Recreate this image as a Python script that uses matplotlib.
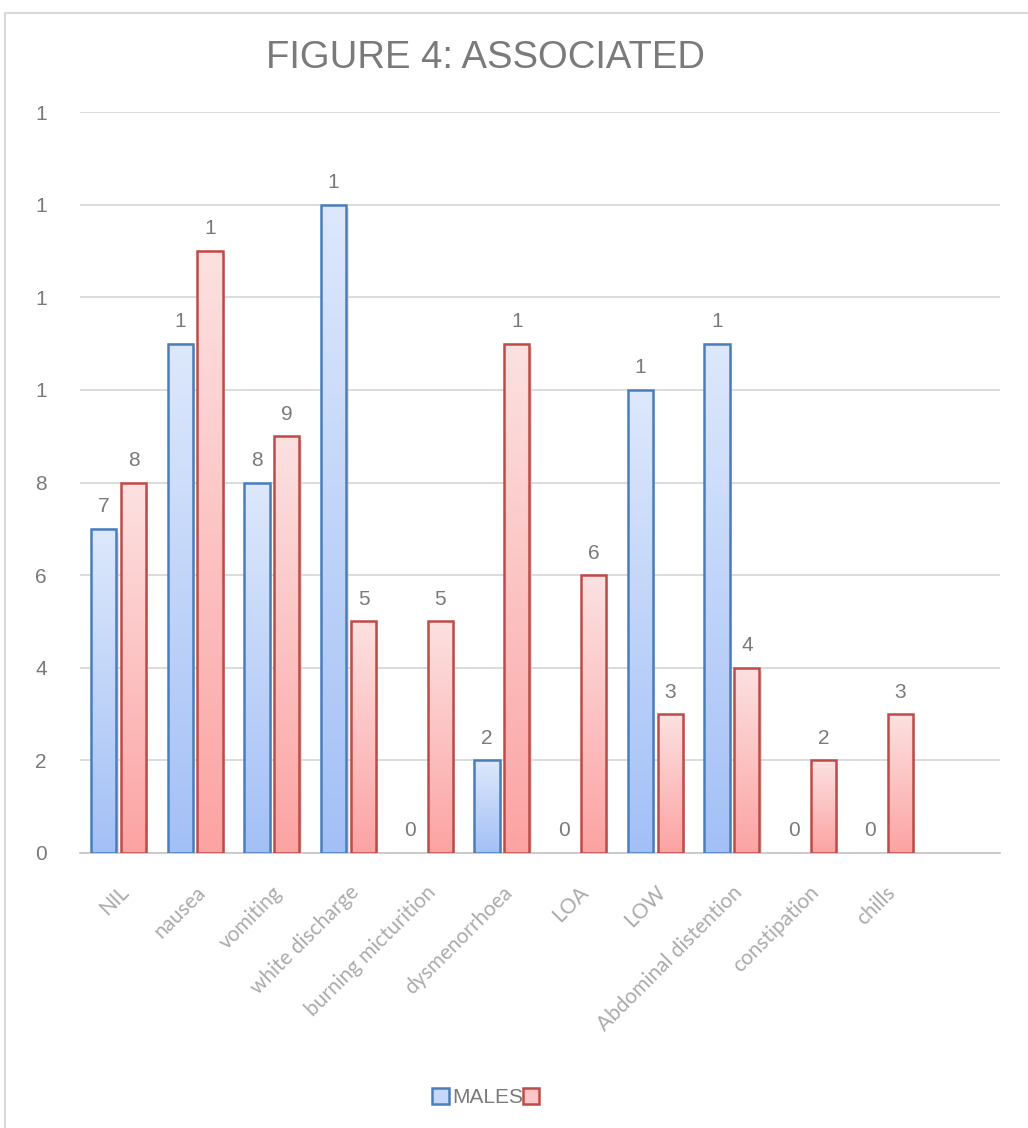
import matplotlib
matplotlib.use("Agg")
import matplotlib.pyplot as plt
import numpy as np
from matplotlib.colors import LinearSegmentedColormap
from matplotlib.patches import Rectangle, Patch

# symptom categories and counts per group
categories = ["NIL", "nausea", "vomiting", "white discharge", "burning micturition",
              "dysmenorrhoea", "LOA", "LOW", "Abdominal distention", "constipation", "chills"]
males = [7, 11, 8, 14, 0, 2, 0, 10, 11, 0, 0]
females = [8, 13, 9, 5, 5, 11, 6, 3, 4, 2, 3]
y_ticks = [0, 2, 4, 6, 8, 10, 12, 14, 16]

plt.rcParams['font.family'] = ['Liberation Sans', 'DejaVu Sans']

TEXT_GREY = "#7a7a7a"
BLUE_EDGE = "#4a7ebb"
RED_EDGE = "#be4b48"
blue_map = LinearSegmentedColormap.from_list("blue", ["#a3c0f6", "#dde8fc"])
red_map = LinearSegmentedColormap.from_list("red", ["#fca3a3", "#fde1e1"])


def short_label(v):
    # the value text is cut down to its first character
    return str(int(v))[0]


def gradient_bars(ax, xs, values, width, cmap, edge):
    edges = [edge if v > 0 else "none" for v in values]
    bars = ax.bar(xs, values, width, facecolor="none", edgecolor=edges, linewidth=1.8, zorder=3)
    grad = np.linspace(0, 1, 256).reshape(-1, 1)
    for b in bars:
        h = b.get_height()
        if h <= 0:
            continue
        x0 = b.get_x()
        ax.imshow(grad, cmap=cmap, origin="lower", aspect="auto",
                  extent=(x0, x0 + b.get_width(), 0, h), zorder=2)
        # soft shadow to the lower right
        ax.add_patch(Rectangle((x0 + 0.03, -0.08), b.get_width(), h, facecolor="#cfcfcf",
                               edgecolor="none", alpha=0.6, zorder=1.5))
    for b, v in zip(bars, values):
        ax.annotate(short_label(v), (b.get_x() + b.get_width() / 2, v),
                    xytext=(0, 9), textcoords="offset points", ha="center", va="bottom",
                    fontsize=15, color=TEXT_GREY, zorder=4)
    return bars


fig = plt.figure(figsize=(10.28, 11.28), dpi=100)
ax = fig.add_axes([0.078, 0.2438, 0.895, 0.6569])

x = np.arange(len(categories))
w = 0.33
gradient_bars(ax, x - 0.195, males, w, blue_map, BLUE_EDGE)
gradient_bars(ax, x + 0.195, females, w, red_map, RED_EDGE)

ax.set_xlim(-0.5, len(categories) + 0.5)
ax.set_ylim(0, 16)
ax.set_yticks(y_ticks)
ax.set_yticklabels([short_label(t) for t in y_ticks])
ax.yaxis.grid(True, color="#d9d9d9", linewidth=1.3, zorder=0)
ax.set_axisbelow(True)
for s in ["top", "right", "left"]:
    ax.spines[s].set_visible(False)
ax.spines["bottom"].set_color("#c8c8c8")
ax.spines["bottom"].set_linewidth(1.3)
ax.spines["bottom"].set_zorder(1)
ax.tick_params(axis="y", length=0, pad=24, labelsize=15, labelcolor=TEXT_GREY)
ax.set_xticks(x)
ax.set_xticklabels(categories, rotation=45, ha="right", rotation_mode="anchor",
                   fontsize=15, color="#ababab", family=["Lato", "DejaVu Sans"])
ax.tick_params(axis="x", length=0, pad=21)

fig.text(0.472, 0.9486, "FIGURE 4: ASSOCIATED", ha="center", va="center",
         fontsize=27.5, color=TEXT_GREY)

handles = [Patch(facecolor="#c6d7f9", edgecolor=BLUE_EDGE, linewidth=1.8),
           Patch(facecolor="#fdc6c6", edgecolor=RED_EDGE, linewidth=1.8)]
fig.legend(handles, ["MALES", ""], loc="center", bbox_to_anchor=(0.474, 0.027), ncol=2,
           frameon=False, fontsize=15, labelcolor=TEXT_GREY, handlelength=0.8,
           handleheight=0.8, handletextpad=0.15, columnspacing=0.0)

# outer chart border
fig.add_artist(Rectangle((0.005, -0.02), 1.1, 1.0085, transform=fig.transFigure,
                         facecolor="none", edgecolor="#d9d9d9", linewidth=1.5))

fig.savefig("out.png", dpi=100)
